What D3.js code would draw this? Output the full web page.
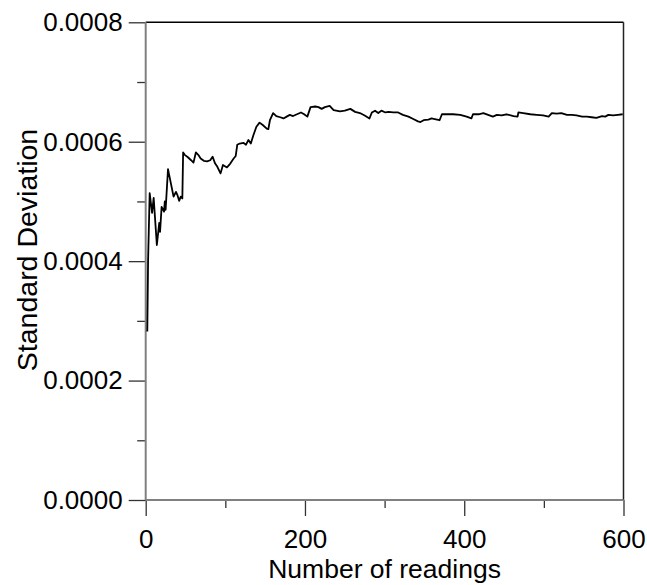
<!DOCTYPE html>
<html>
<head>
<meta charset="utf-8">
<script src="https://cdn.jsdelivr.net/npm/d3@7"></script>
<style>
  html, body { margin: 0; padding: 0; background: #fff; }
  svg { display: block; }
  text { font-family: "Liberation Sans", Arial, sans-serif; fill: #000; }
</style>
</head>
<body>
<svg id="chart" width="647" height="585"></svg>
<script>
// Running standard deviation against the number of readings taken
const readings = [2, 3, 5, 8, 10, 14, 17, 18, 20, 23, 24, 25, 28, 35, 38, 40, 42, 44, 46, 47,
  49, 53, 57, 60, 63, 66, 69, 73, 77, 81, 84, 87, 90, 94, 97, 102, 106, 110, 113, 115,
  118, 123, 126, 129, 132, 135, 139, 143, 147, 152, 154, 156, 160, 164, 169, 173, 177, 181, 185, 190,
  195, 199, 203, 207, 213, 217, 221, 225, 231, 236, 244, 250, 257, 263, 269, 275, 281, 284, 288, 292,
  296, 301, 305, 311, 317, 323, 330, 336, 342, 345, 349, 355, 359, 363, 369, 372, 378, 386, 395, 403,
  409, 411, 418, 424, 430, 436, 441, 447, 453, 462, 467, 468, 474, 483, 491, 499, 506, 510, 516, 522,
  529, 535, 541, 548, 554, 560, 566, 573, 577, 581, 587, 593, 599];
const stdDev = [0.000282, 0.000402, 0.000514, 0.000481, 0.000506, 0.000427, 0.000464, 0.000449, 0.000491, 0.000483,
  0.000500, 0.000486, 0.000554, 0.000508, 0.000516, 0.000510, 0.000501, 0.000508, 0.000505, 0.000582,
  0.000578, 0.000574, 0.000569, 0.000565, 0.000582, 0.000578, 0.000572, 0.000568, 0.000567, 0.000569,
  0.000575, 0.000564, 0.000558, 0.000547, 0.000561, 0.000557, 0.000563, 0.000571, 0.000576, 0.000595,
  0.000597, 0.000598, 0.000595, 0.000603, 0.000597, 0.000610, 0.000625, 0.000632, 0.000628, 0.000622,
  0.000621, 0.000636, 0.000648, 0.000643, 0.000641, 0.000639, 0.000642, 0.000645, 0.000643, 0.000646,
  0.000649, 0.000646, 0.000642, 0.000658, 0.000659, 0.000658, 0.000655, 0.000658, 0.000660, 0.000653,
  0.000651, 0.000652, 0.000655, 0.000650, 0.000648, 0.000644, 0.000639, 0.000649, 0.000652, 0.000648,
  0.000652, 0.000649, 0.000650, 0.000649, 0.000649, 0.000645, 0.000642, 0.000638, 0.000634, 0.000633,
  0.000636, 0.000637, 0.000639, 0.000638, 0.000636, 0.000646, 0.000646, 0.000646, 0.000645, 0.000642,
  0.000639, 0.000646, 0.000646, 0.000648, 0.000645, 0.000642, 0.000645, 0.000644, 0.000646, 0.000643,
  0.000642, 0.000649, 0.000648, 0.000646, 0.000645, 0.000644, 0.000642, 0.000648, 0.000647, 0.000648,
  0.000645, 0.000645, 0.000644, 0.000642, 0.000642, 0.000641, 0.000640, 0.000643, 0.000642, 0.000645,
  0.000644, 0.000645, 0.000646];

const xMajorTicks = [0, 200, 400, 600];
const xMinorTicks = [100, 300, 500];
const yMajorTicks = [0, 0.0002, 0.0004, 0.0006, 0.0008];
const yMinorTicks = [0.0001, 0.0003, 0.0005, 0.0007];
const xTitle = "Number of readings";
const yTitle = "Standard Deviation";

const plotLeft = 145.7, plotRight = 623.5, plotTop = 22.3, plotBottom = 500;
const svg = d3.select("#chart");

const x = d3.scaleLinear().domain([0, 600]).range([plotLeft, plotRight]);
const y = d3.scaleLinear().domain([0, 0.0008]).range([plotBottom, plotTop]);

// frame: top and right edges
svg.append("line").attr("x1", plotLeft).attr("x2", plotRight).attr("y1", plotTop).attr("y2", plotTop)
  .attr("stroke", "#000").attr("stroke-width", 1.5);
svg.append("line").attr("x1", plotRight).attr("x2", plotRight).attr("y1", plotTop).attr("y2", plotBottom)
  .attr("stroke", "#222").attr("stroke-width", 1.5);

// y axis with major and minor ticks
const yAxis = svg.append("g").attr("transform", `translate(${plotLeft},0)`)
  .call(d3.axisLeft(y).tickValues(yMajorTicks).tickSize(17).tickPadding(6)
    .tickFormat(d3.format(".4f")));
yAxis.call(g => g.select(".domain").remove());
yAxis.selectAll(".tick line").attr("stroke", "#333").attr("stroke-width", 1.3);
yAxis.selectAll(".tick text").attr("font-size", 26);
svg.append("g").attr("transform", `translate(${plotLeft},0)`)
  .call(d3.axisLeft(y).tickValues(yMinorTicks).tickSize(8.5).tickFormat(""))
  .call(g => g.select(".domain").remove())
  .selectAll(".tick line").attr("stroke", "#333").attr("stroke-width", 1.3);

// x axis with major and minor ticks
const xAxis = svg.append("g").attr("transform", `translate(0,${plotBottom})`)
  .call(d3.axisBottom(x).tickValues(xMajorTicks).tickSize(16).tickPadding(14)
    .tickFormat(d3.format("d")));
xAxis.call(g => g.select(".domain").remove());
xAxis.selectAll(".tick line").attr("stroke", "#333").attr("stroke-width", 1.3);
xAxis.selectAll(".tick text").attr("font-size", 26);
svg.append("g").attr("transform", `translate(0,${plotBottom})`)
  .call(d3.axisBottom(x).tickValues(xMinorTicks).tickSize(8).tickFormat(""))
  .call(g => g.select(".domain").remove())
  .selectAll(".tick line").attr("stroke", "#333").attr("stroke-width", 1.3);

// left and bottom axis lines
svg.append("line").attr("x1", plotLeft).attr("x2", plotLeft).attr("y1", plotTop).attr("y2", plotBottom)
  .attr("stroke", "#808080").attr("stroke-width", 2);
svg.append("line").attr("x1", plotLeft).attr("x2", plotRight).attr("y1", plotBottom).attr("y2", plotBottom)
  .attr("stroke", "#808080").attr("stroke-width", 2);

// data line
const pts = readings.map((n, i) => [n, stdDev[i]]);
svg.append("path")
  .datum(pts)
  .attr("fill", "none")
  .attr("stroke", "#000")
  .attr("stroke-width", 1.8)
  .attr("stroke-linejoin", "round")
  .attr("d", d3.line().x(d => x(d[0])).y(d => y(d[1])));

// axis titles
svg.append("text").attr("x", (plotLeft + plotRight) / 2).attr("y", 578)
  .attr("text-anchor", "middle").attr("font-size", 26.5).text(xTitle);
svg.append("text")
  .attr("transform", `translate(37,250) rotate(-90)`)
  .attr("text-anchor", "middle").attr("font-size", 28.5).text(yTitle);
</script>
</body>
</html>
